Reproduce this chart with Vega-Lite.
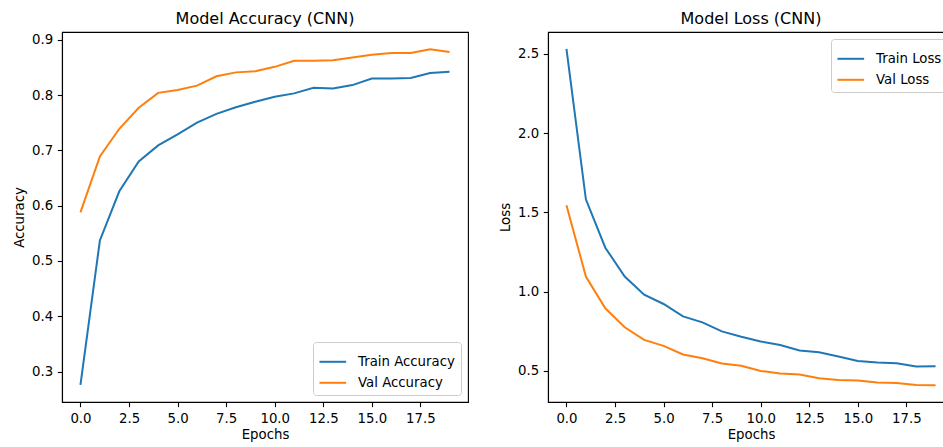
{
  "$schema": "https://vega.github.io/schema/vega-lite/v6.json",
  "padding": {"left": 11, "top": 10, "right": 0, "bottom": 0},
  "background": "white",
  "config": {
    "font": "DejaVu Sans",
    "view": {"stroke": "black", "strokeWidth": 1.1},
    "axis": {
      "grid": false,
      "domainColor": "black",
      "domainWidth": 1.1,
      "tickColor": "black",
      "tickWidth": 1.1,
      "tickSize": 4.7,
      "labelColor": "black",
      "labelFontSize": 13.3,
      "labelPadding": 4.7,
      "titleColor": "black",
      "titleFontSize": 13.3,
      "titleFontWeight": "normal"
    },
    "axisY": {"titlePadding": 5},
    "axisX": {"titlePadding": 3},
    "title": {"fontSize": 16, "fontWeight": "normal", "color": "black", "anchor": "middle", "offset": 5},
    "legend": {
      "title": null,
      "symbolType": "stroke",
      "symbolSize": 711,
      "symbolStrokeWidth": 2,
      "labelFontSize": 13.3,
      "labelColor": "black",
      "labelOffset": 10.7,
      "rowPadding": -3,
      "padding": 5.3,
      "fillColor": "rgba(255,255,255,0.8)",
      "strokeColor": "#cccccc",
      "cornerRadius": 3,
      "offset": 6.7
    }
  },
  "datasets": {
    "acc": [
      {"epoch": 0, "series": "Train Accuracy", "value": 0.276},
      {"epoch": 1, "series": "Train Accuracy", "value": 0.537},
      {"epoch": 2, "series": "Train Accuracy", "value": 0.626},
      {"epoch": 3, "series": "Train Accuracy", "value": 0.680},
      {"epoch": 4, "series": "Train Accuracy", "value": 0.709},
      {"epoch": 5, "series": "Train Accuracy", "value": 0.729},
      {"epoch": 6, "series": "Train Accuracy", "value": 0.750},
      {"epoch": 7, "series": "Train Accuracy", "value": 0.766},
      {"epoch": 8, "series": "Train Accuracy", "value": 0.778},
      {"epoch": 9, "series": "Train Accuracy", "value": 0.788},
      {"epoch": 10, "series": "Train Accuracy", "value": 0.797},
      {"epoch": 11, "series": "Train Accuracy", "value": 0.803},
      {"epoch": 12, "series": "Train Accuracy", "value": 0.813},
      {"epoch": 13, "series": "Train Accuracy", "value": 0.812},
      {"epoch": 14, "series": "Train Accuracy", "value": 0.818},
      {"epoch": 15, "series": "Train Accuracy", "value": 0.830},
      {"epoch": 16, "series": "Train Accuracy", "value": 0.830},
      {"epoch": 17, "series": "Train Accuracy", "value": 0.831},
      {"epoch": 18, "series": "Train Accuracy", "value": 0.840},
      {"epoch": 19, "series": "Train Accuracy", "value": 0.842},
      {"epoch": 0, "series": "Val Accuracy", "value": 0.588},
      {"epoch": 1, "series": "Val Accuracy", "value": 0.689},
      {"epoch": 2, "series": "Val Accuracy", "value": 0.739},
      {"epoch": 3, "series": "Val Accuracy", "value": 0.777},
      {"epoch": 4, "series": "Val Accuracy", "value": 0.804},
      {"epoch": 5, "series": "Val Accuracy", "value": 0.809},
      {"epoch": 6, "series": "Val Accuracy", "value": 0.817},
      {"epoch": 7, "series": "Val Accuracy", "value": 0.834},
      {"epoch": 8, "series": "Val Accuracy", "value": 0.841},
      {"epoch": 9, "series": "Val Accuracy", "value": 0.843},
      {"epoch": 10, "series": "Val Accuracy", "value": 0.851},
      {"epoch": 11, "series": "Val Accuracy", "value": 0.862},
      {"epoch": 12, "series": "Val Accuracy", "value": 0.862},
      {"epoch": 13, "series": "Val Accuracy", "value": 0.863},
      {"epoch": 14, "series": "Val Accuracy", "value": 0.868},
      {"epoch": 15, "series": "Val Accuracy", "value": 0.873},
      {"epoch": 16, "series": "Val Accuracy", "value": 0.876},
      {"epoch": 17, "series": "Val Accuracy", "value": 0.876},
      {"epoch": 18, "series": "Val Accuracy", "value": 0.883},
      {"epoch": 19, "series": "Val Accuracy", "value": 0.878}
    ],
    "loss": [
      {"epoch": 0, "series": "Train Loss", "value": 2.531},
      {"epoch": 1, "series": "Train Loss", "value": 1.582},
      {"epoch": 2, "series": "Train Loss", "value": 1.277},
      {"epoch": 3, "series": "Train Loss", "value": 1.095},
      {"epoch": 4, "series": "Train Loss", "value": 0.981},
      {"epoch": 5, "series": "Train Loss", "value": 0.922},
      {"epoch": 6, "series": "Train Loss", "value": 0.844},
      {"epoch": 7, "series": "Train Loss", "value": 0.806},
      {"epoch": 8, "series": "Train Loss", "value": 0.749},
      {"epoch": 9, "series": "Train Loss", "value": 0.715},
      {"epoch": 10, "series": "Train Loss", "value": 0.686},
      {"epoch": 11, "series": "Train Loss", "value": 0.663},
      {"epoch": 12, "series": "Train Loss", "value": 0.629},
      {"epoch": 13, "series": "Train Loss", "value": 0.618},
      {"epoch": 14, "series": "Train Loss", "value": 0.591},
      {"epoch": 15, "series": "Train Loss", "value": 0.563},
      {"epoch": 16, "series": "Train Loss", "value": 0.553},
      {"epoch": 17, "series": "Train Loss", "value": 0.549},
      {"epoch": 18, "series": "Train Loss", "value": 0.528},
      {"epoch": 19, "series": "Train Loss", "value": 0.530},
      {"epoch": 0, "series": "Val Loss", "value": 1.544},
      {"epoch": 1, "series": "Val Loss", "value": 1.095},
      {"epoch": 2, "series": "Val Loss", "value": 0.895},
      {"epoch": 3, "series": "Val Loss", "value": 0.775},
      {"epoch": 4, "series": "Val Loss", "value": 0.696},
      {"epoch": 5, "series": "Val Loss", "value": 0.658},
      {"epoch": 6, "series": "Val Loss", "value": 0.604},
      {"epoch": 7, "series": "Val Loss", "value": 0.580},
      {"epoch": 8, "series": "Val Loss", "value": 0.547},
      {"epoch": 9, "series": "Val Loss", "value": 0.532},
      {"epoch": 10, "series": "Val Loss", "value": 0.500},
      {"epoch": 11, "series": "Val Loss", "value": 0.484},
      {"epoch": 12, "series": "Val Loss", "value": 0.477},
      {"epoch": 13, "series": "Val Loss", "value": 0.454},
      {"epoch": 14, "series": "Val Loss", "value": 0.443},
      {"epoch": 15, "series": "Val Loss", "value": 0.439},
      {"epoch": 16, "series": "Val Loss", "value": 0.427},
      {"epoch": 17, "series": "Val Loss", "value": 0.424},
      {"epoch": 18, "series": "Val Loss", "value": 0.411},
      {"epoch": 19, "series": "Val Loss", "value": 0.410}
    ]
  },
  "spacing": 28,
  "hconcat": [
    {
      "title": "Model Accuracy (CNN)",
      "width": 406,
      "height": 370,
      "data": {"name": "acc"},
      "mark": {"type": "line", "strokeWidth": 2},
      "encoding": {
        "x": {
          "field": "epoch", "type": "quantitative", "title": "Epochs",
          "scale": {"domain": [-0.95, 19.95], "nice": false, "zero": false},
          "axis": {"values": [0, 2.5, 5, 7.5, 10, 12.5, 15, 17.5], "format": ".1f"}
        },
        "y": {
          "field": "value", "type": "quantitative", "title": "Accuracy",
          "scale": {"domain": [0.245, 0.914], "nice": false, "zero": false},
          "axis": {"values": [0.3, 0.4, 0.5, 0.6, 0.7, 0.8, 0.9], "format": ".1f"}
        },
        "color": {
          "field": "series", "type": "nominal",
          "scale": {"domain": ["Train Accuracy", "Val Accuracy"], "range": ["#1f77b4", "#ff7f0e"]},
          "legend": {"orient": "bottom-right"}
        }
      }
    },
    {
      "title": "Model Loss (CNN)",
      "width": 406,
      "height": 370,
      "data": {"name": "loss"},
      "mark": {"type": "line", "strokeWidth": 2},
      "encoding": {
        "x": {
          "field": "epoch", "type": "quantitative", "title": "Epochs",
          "scale": {"domain": [-0.95, 19.95], "nice": false, "zero": false},
          "axis": {"values": [0, 2.5, 5, 7.5, 10, 12.5, 15, 17.5], "format": ".1f"}
        },
        "y": {
          "field": "value", "type": "quantitative", "title": "Loss",
          "scale": {"domain": [0.304, 2.637], "nice": false, "zero": false},
          "axis": {"values": [0.5, 1.0, 1.5, 2.0, 2.5], "format": ".1f"}
        },
        "color": {
          "field": "series", "type": "nominal",
          "scale": {"domain": ["Train Loss", "Val Loss"], "range": ["#1f77b4", "#ff7f0e"]},
          "legend": {"orient": "top-right"}
        }
      }
    }
  ],
  "resolve": {"scale": {"color": "independent"}}
}
